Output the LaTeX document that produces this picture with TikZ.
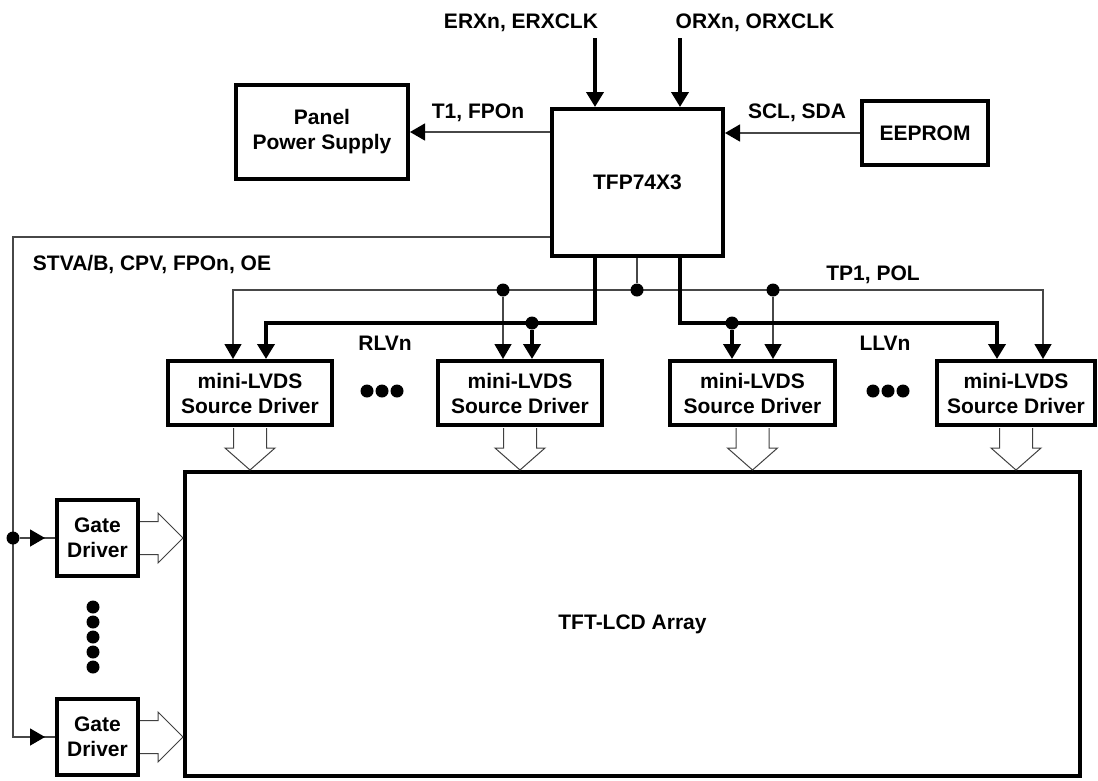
\documentclass[tikz,border=0pt]{standalone}
\usepackage{fontspec}
\setmainfont{Liberation Sans}
\usetikzlibrary{arrows.meta}
\newcommand{\hollowdown}[1]% tip
{(#1) ++(-16.5,-42) -- ++(0,20) -- ++(-8.5,0) -- ++(25,22) -- ++(25,-22) -- ++(-8.5,0) -- ++(0,-20)
}
\newcommand{\hollowright}[1]% tip
{(#1) ++(-43,-16.5) -- ++(18,0) -- ++(0,-8.5) -- ++(25,25) -- ++(-25,25) -- ++(0,-8.5) -- ++(-18,0)
}
\tikzset{
  blk/.style={draw, line width=4pt, align=center, inner sep=0pt, font=\bfseries\fontsize{21}{25}\selectfont},
  lbl/.style={anchor=base, inner sep=0pt, font=\bfseries\fontsize{21}{25}\selectfont},
  sig/.style={draw=black!72, line width=1.4pt},
  bus/.style={draw=black, line width=4pt},
  tip/.style={-{Triangle[length=15pt,width=17pt,color=black]}},
  tips/.style={{Triangle[length=15pt,width=17pt,color=black]}-{Triangle[length=15pt,width=17pt,color=black]}},
  dot/.style={circle, fill=black, inner sep=0pt, minimum size=13pt},
  hollow/.style={draw=black!75, line width=1pt}
}

\begin{document}
\begin{tikzpicture}[x=1pt,y=-1pt]
	\useasboundingbox (0,0) rectangle (1098,780);
	% blocks
	\node[blk, minimum width=171pt, minimum height=147pt] (tfp) at (637.5,182.5) {TFP74X3};
	\node[blk, minimum width=172pt, minimum height=94pt] (pps) at (322,132) {Panel\\Power Supply};
	\node[blk, minimum width=126pt, minimum height=64pt] (eeprom) at (925,133) {EEPROM};
	\node[blk, minimum width=164pt, minimum height=64pt] (sd1) at (250,393) {mini-LVDS\\Source Driver};
	\node[blk, minimum width=164pt, minimum height=64pt] (sd2) at (520,393) {mini-LVDS\\Source Driver};
	\node[blk, minimum width=165pt, minimum height=64pt] (sd3) at (752.5,393) {mini-LVDS\\Source Driver};
	\node[blk, minimum width=158pt, minimum height=64pt] (sd4) at (1016,393) {mini-LVDS\\Source Driver};
	\node[blk, minimum width=895pt, minimum height=304pt] (lcd) at (632.5,624) {TFT-LCD Array};
	\node[blk, minimum width=81pt, minimum height=76pt] (gd1) at (97.5,538) {Gate\\Driver};
	\node[blk, minimum width=81pt, minimum height=76pt] (gd2) at (97.5,737) {Gate\\Driver};
	% labels
	\node[lbl] (erxlbl) at (521,28) {ERXn, ERXCLK};
	\node[lbl] (orxlbl) at (755,28) {ORXn, ORXCLK};
	\node[lbl] (t1lbl) at (478,118) {T1, FPOn};
	\node[lbl] (scllbl) at (797,118) {SCL, SDA};
	\node[lbl] (stvalbl) at (152,270) {STVA/B, CPV, FPOn, OE};
	\node[lbl] (tp1lbl) at (873,280) {TP1, POL};
	\node[lbl] (rlvlbl) at (385,350) {RLVn};
	\node[lbl] (llvlbl) at (885,350) {LLVn};
	% inputs
	\coordinate (erxin) at (595,38);
	\coordinate (orxin) at (680,38);
	\draw[bus,tip] (erxin) -- (erxin |- tfp.north);
	\draw[bus,tip] (orxin) -- (orxin |- tfp.north);
	\draw[sig,tip] (tfp.west |- pps) -- (pps.east);
	\draw[sig,tip] (eeprom.west) -- (eeprom.west -| tfp.east);
	% gate control
	\coordinate (stva) at (13,237);
	\draw[sig] (stva -| tfp.west) -- (stva) -- (stva |- gd2) -- (gd2.west);
	\node[dot] (gjoin) at (stva |- gd1) {};
	\draw[sig] (gjoin) -- (gd1.west);
	\draw[sig,tip] (gjoin) -- ++(32,0);
	\draw[sig,tip] (stva |- gd2) -- ++(32,0);
	% TP1, POL
	\coordinate (tpl) at (233,290);
	\coordinate (tpr) at (1043,290);
	\draw[sig,tips] (tpl |- sd1.north) -- (tpl) -- (tpr) -- (tpr |- sd4.north);
	\node[dot] (tpj) at (637,290) {};
	\draw[sig] (tpj |- tfp.south) -- (tpj);
	\node[dot] (tp2) at (503,290) {};
	\draw[sig,tip] (tp2) -- (tp2 |- sd2.north);
	\node[dot] (tp3) at (773,290) {};
	\draw[sig,tip] (tp3) -- (tp3 |- sd3.north);
	% RLVn
	\coordinate (rlout) at (595,323);
	\coordinate (rl) at (266,323);
	\draw[bus,tip] (rlout |- tfp.south) -- (rlout) -- (rl) -- (rl |- sd1.north);
	\node[dot] (rl2) at (532,323) {};
	\draw[bus,tip] (rl2) -- (rl2 |- sd2.north);
	% LLVn
	\coordinate (llout) at (680,323);
	\coordinate (ll) at (997,323);
	\draw[bus,tip] (llout |- tfp.south) -- (llout) -- (ll) -- (ll |- sd4.north);
	\node[dot] (ll3) at (732,323) {};
	\draw[bus,tip] (ll3) -- (ll3 |- sd3.north);
	% outputs to the array
	\draw[hollow] \hollowdown{sd1.south |- lcd.north};
	\draw[hollow] \hollowdown{sd2.south |- lcd.north};
	\draw[hollow] \hollowdown{sd3.south |- lcd.north};
	\draw[hollow] \hollowdown{sd4.south |- lcd.north};
	\draw[hollow] \hollowright{gd1 -| lcd.west};
	\draw[hollow] \hollowright{gd2 -| lcd.west};
	% ellipses
	\node[dot] (dl1) at (367,391) {};
	\node[dot] (dl2) at (382,391) {};
	\node[dot] (dl3) at (397,391) {};
	\node[dot] (dr1) at (873,391) {};
	\node[dot] (dr2) at (888,391) {};
	\node[dot] (dr3) at (903,391) {};
	\node[dot] (dv1) at (93,607) {};
	\node[dot] (dv2) at (93,622) {};
	\node[dot] (dv3) at (93,637) {};
	\node[dot] (dv4) at (93,652) {};
	\node[dot] (dv5) at (93,667) {};
\end{tikzpicture}
\end{document}
